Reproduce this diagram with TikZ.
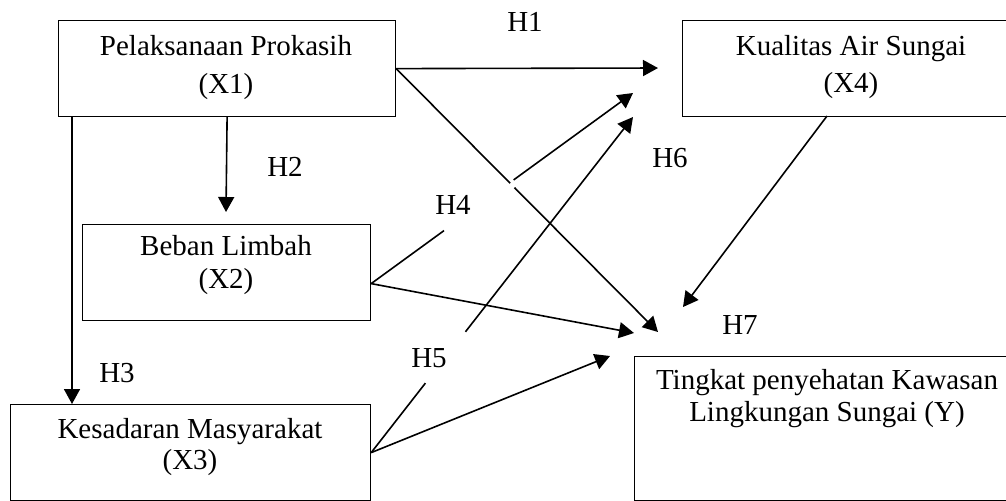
\documentclass[tikz,border=0pt]{standalone}
\usepackage{fontspec}
\setmainfont{Liberation Serif}
\usetikzlibrary{arrows.meta,calc}
\begin{document}
\begin{tikzpicture}[x=0.5pt,y=-0.5pt,
  box/.style={draw=black,line width=0.6pt,minimum width=#1,inner sep=0pt,anchor=north west},
  boxtext/.style={font=\fontsize{14.5pt}{#1}\selectfont,align=center,inner sep=0pt},
  hlabel/.style={font=\fontsize{14.5pt}{17pt}\selectfont,inner sep=0pt},
  conn/.style={line width=0.8pt,-{Triangle[length=7.5pt,width=8pt]}},
  seg/.style={line width=0.8pt}]
\useasboundingbox (0,0) rectangle (1006,500);
\clip (0,0) rectangle (1006,500);
% boxes
\node[box=168.5pt,minimum height=48pt] (x1) at (58,20) {};
\node[box=144pt,minimum height=48pt] (x2) at (82,224) {};
\node[box=180pt,minimum height=48pt] (x3) at (10,404) {};
\node[box=169pt,minimum height=48pt] (x4) at (682,20) {};
\node[box=193pt,minimum height=72pt] (y) at (634,356) {};
% texts
\node[boxtext=19pt] (t1) at (226,68) {Pelaksanaan Prokasih\\(X1)};
\node[boxtext=16.5pt] (t2) at (226,265) {Beban Limbah\\(X2)};
\node[boxtext=15.5pt] (t3) at (190,447) {Kesadaran Masyarakat\\(X3)};
\node[boxtext=18.5pt] (t4) at (851,67) {Kualitas Air Sungai\\(X4)};
\node[boxtext=16pt] (ty) at (827,399) {Tingkat penyehatan Kawasan\\Lingkungan Sungai (Y)};
% labels
\node[hlabel] (h1) at (525,22) {H1};
\node[hlabel] (h2) at (285,167) {H2};
\node[hlabel] (h3) at (117,373) {H3};
\node[hlabel] (h4) at (453,205) {H4};
\node[hlabel] (h5) at (429,358) {H5};
\node[hlabel] (h6) at (670,158) {H6};
\node[hlabel] (h7) at (740,325) {H7};
% tips
\coordinate (tipA1) at (658,68);
\coordinate (tipA2) at (226,212);
\coordinate (tipA3) at (72,404);
\coordinate (tipY1) at (658,332);
\coordinate (tipY2) at (634,333);
\coordinate (tipY3) at (610,356);
\coordinate (tipY4) at (683,307);
\coordinate (tipX4a) at (633,93);
\coordinate (tipX4b) at (633,117);
% start points
\coordinate (s3) at ($(x1.south west)+(14,0)$);
\coordinate (s2) at ($(x2.east)+(0,11)$);
\coordinate (s4) at (827,116);
% arrows
\draw[conn] (x1.east) -- (tipA1);
\draw[conn] (x1.south) -- (tipA2);
\draw[conn] (s3) -- (tipA3);
\draw[seg] (x1.east) -- ($(x1.east)!0.435!(tipY1)$);
\draw[conn] ($(x1.east)!0.452!(tipY1)$) -- (tipY1);
\draw[conn] (s2) -- (tipY2);
\draw[seg] (s2) -- ($(s2)!0.278!(tipX4a)$);
\draw[conn] ($(s2)!0.544!(tipX4a)$) -- (tipX4a);
\draw[conn] (x3.east) -- (tipY3);
\draw[seg] (x3.east) -- ($(x3.east)!0.207!(tipX4b)$);
\draw[conn] ($(x3.east)!0.36!(tipX4b)$) -- (tipX4b);
\draw[conn] (s4) -- (tipY4);
\end{tikzpicture}
\end{document}
